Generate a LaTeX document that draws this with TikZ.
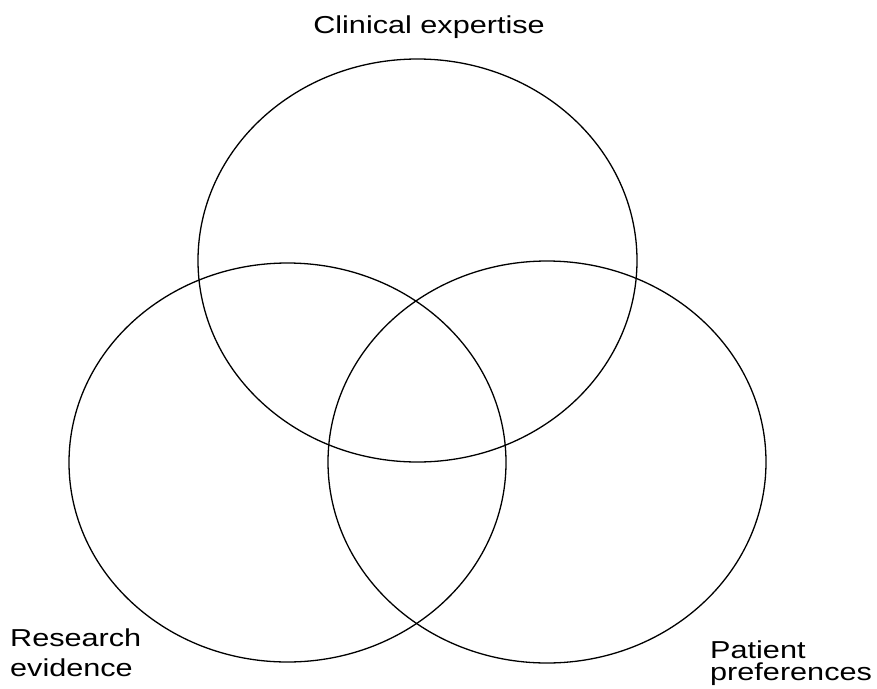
\documentclass[tikz,border=0pt]{standalone}
\usepackage{fontspec}
\setmainfont{Liberation Sans}[FakeStretch=1.25]
\begin{document}
\begin{tikzpicture}[x=1pt,y=-1pt,
  ring/.style={draw=black,line width=1.3pt},
  lab/.style={inner sep=0pt,align=left,text=black}]
\useasboundingbox (0,0) rectangle (877,688);
\draw[ring] (417.5,260.5) ellipse [x radius=219.5, y radius=201.5];
\draw[ring] (287.5,462.5) ellipse [x radius=218.5, y radius=199.5];
\draw[ring] (547,462) ellipse [x radius=219, y radius=201];
\node[lab,font=\fontsize{24.5}{30}\selectfont,anchor=base] (ce) at (429,33) {Clinical expertise};
\node[lab,font=\fontsize{24.5}{30}\selectfont,anchor=north west] (re) at (10,629) {Research\\evidence};
\node[lab,font=\fontsize{24.5}{22.5}\selectfont,anchor=north west] (pp) at (710,640.5) {Patient\\preferences};
\end{tikzpicture}
\end{document}
